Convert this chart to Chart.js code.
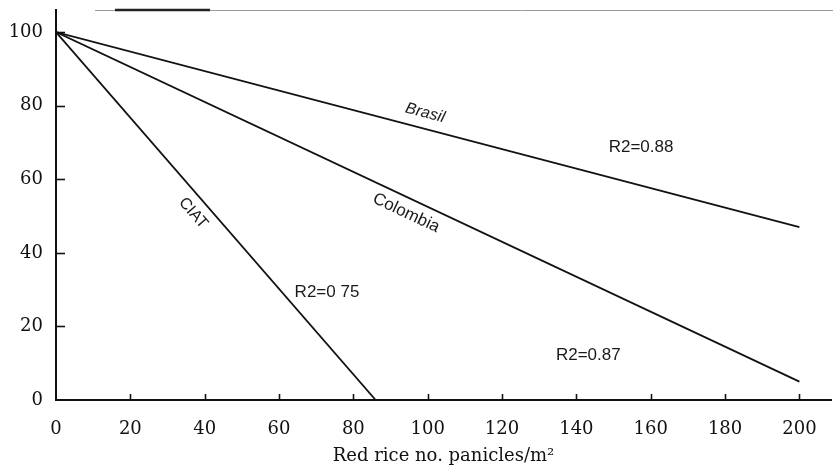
<!DOCTYPE html>
<html><head><meta charset="utf-8">
<script src="https://cdn.jsdelivr.net/npm/chart.js@4"></script>
<style>html,body{margin:0;padding:0;background:#fff}#wrap{width:833px;height:470px;position:relative}</style>
</head><body><div id="wrap"><canvas id="c"></canvas></div>
<script>
// ---- data ----
const xTickValues = [0, 20, 40, 60, 80, 100, 120, 140, 160, 180, 200];
const yTickValues = [0, 20, 40, 60, 80, 100];
const seriesNames = ['CIAT', 'Colombia', 'Brasil'];
const ciatX = [0, 86];      const ciatY = [100, 0];
const colombiaX = [0, 200]; const colombiaY = [100, 5];
const brasilX = [0, 200];   const brasilY = [100, 47];
const noteText = ['Brasil', 'R2=0.88', 'Colombia', 'R2=0.87', 'CIAT', 'R2=0 75'];
const noteX = [99.3, 157.4, 94.2, 143.2, 36.9, 72.9];
const noteY = [78, 68.8, 50.8, 12.2, 50.8, 29.3];
const noteSeries = [2, -1, 1, -1, 0, -1];
const xTitle = 'Red rice no. panicles/m\u00B2';

const toPts = (xs, ys) => xs.map((x, i) => ({x: x, y: ys[i]}));
const seriesData = [toPts(ciatX, ciatY), toPts(colombiaX, colombiaY), toPts(brasilX, brasilY)];

const inkTicks = {
  id: 'inkTicks',
  afterDraw(chart) {
    const ctx = chart.ctx, xs = chart.scales.x, ys = chart.scales.y, a = chart.chartArea;
    ctx.save();
    ctx.strokeStyle = '#111'; ctx.lineWidth = 1.6;
    xTickValues.forEach(v => {
      if (v === 0) return;
      const px = Math.round(xs.getPixelForValue(v)) + 0.5;
      ctx.beginPath(); ctx.moveTo(px, a.bottom); ctx.lineTo(px, a.bottom - 6); ctx.stroke();
    });
    yTickValues.forEach(v => {
      if (v === 0) return;
      const py = Math.round(ys.getPixelForValue(v)) + 0.5;
      ctx.beginPath(); ctx.moveTo(a.left, py); ctx.lineTo(a.left + 9, py); ctx.stroke();
    });
    // scanned rule fragment along the top edge
    ctx.strokeStyle = '#222'; ctx.lineWidth = 2.5;
    ctx.beginPath(); ctx.moveTo(115, a.top); ctx.lineTo(210, a.top); ctx.stroke();
    ctx.strokeStyle = '#9a9a9a'; ctx.lineWidth = 1;
    ctx.beginPath(); ctx.moveTo(95, a.top + 0.5); ctx.lineTo(115, a.top + 0.5); ctx.stroke();
    ctx.beginPath(); ctx.moveTo(210, a.top + 0.5); ctx.lineTo(chart.width, a.top + 0.5); ctx.stroke();
    ctx.restore();
  }
};

const noteFont = t => t === 'Brasil' ? 'italic 16px "Liberation Sans", Arial, sans-serif'
  : t === 'Colombia' ? '17px "Liberation Sans", Arial, sans-serif'
  : t === 'CIAT' ? '16px "Liberation Sans", Arial, sans-serif'
  : '17px "Liberation Sans", Arial, sans-serif';

const notes = {
  id: 'notes',
  afterDatasetsDraw(chart) {
    const ctx = chart.ctx, xs = chart.scales.x, ys = chart.scales.y;
    ctx.save();
    ctx.fillStyle = '#1a1a1a';
    ctx.textAlign = 'center'; ctx.textBaseline = 'middle';
    noteText.forEach((t, i) => {
      const px = xs.getPixelForValue(noteX[i]), py = ys.getPixelForValue(noteY[i]);
      let ang = 0;
      const s = noteSeries[i];
      if (s >= 0) {
        const d = seriesData[s];
        const x0 = xs.getPixelForValue(d[0].x), y0 = ys.getPixelForValue(d[0].y);
        const x1 = xs.getPixelForValue(d[d.length - 1].x), y1 = ys.getPixelForValue(d[d.length - 1].y);
        ang = Math.atan2(y1 - y0, x1 - x0);
      }
      ctx.font = noteFont(t);
      ctx.translate(px, py); ctx.rotate(ang);
      ctx.fillText(t, 0, 0);
      ctx.setTransform(1, 0, 0, 1, 0, 0);
    });
    ctx.restore();
  }
};

const serif = '"DejaVu Serif", "Liberation Serif", serif';

new Chart(document.getElementById('c'), {
  type: 'scatter',
  data: {
    datasets: seriesNames.map((n, i) => ({
      label: n, data: seriesData[i], showLine: true,
      borderColor: '#111', borderWidth: 1.8, pointRadius: 0, tension: 0, fill: false
    }))
  },
  options: {
    responsive: true, maintainAspectRatio: false, animation: false, devicePixelRatio: 1,
    layout: {padding: {top: 10, right: 2, left: 0, bottom: 0}},
    plugins: {legend: {display: false}, tooltip: {enabled: false}},
    scales: {
      x: {
        type: 'linear', min: 0, max: 208.5,
        afterBuildTicks: s => { s.ticks = xTickValues.map(v => ({value: v})); },
        afterFit: s => { s.height = 70; s.paddingLeft = 0; s.paddingRight = 0; },
        grid: {display: true, drawOnChartArea: false, drawTicks: false},
        border: {display: true, color: '#111', width: 2},
        ticks: {color: '#111', padding: 19, maxRotation: 0, autoSkip: false,
                font: {family: serif, size: 18}},
        title: {display: true, text: xTitle, color: '#111', padding: {top: 0, bottom: 3},
                font: {family: serif, size: 18}}
      },
      y: {
        type: 'linear', min: 0, max: 106,
        afterBuildTicks: s => { s.ticks = yTickValues.map(v => ({value: v})); },
        afterFit: s => { s.width = 56; s.paddingTop = 0; s.paddingBottom = 0; },
        grid: {display: true, drawOnChartArea: false, drawTicks: false},
        border: {display: true, color: '#111', width: 2},
        ticks: {color: '#111', padding: 13, autoSkip: false,
                font: {family: serif, size: 18}}
      }
    }
  },
  plugins: [inkTicks, notes]
});
</script>
</body></html>
